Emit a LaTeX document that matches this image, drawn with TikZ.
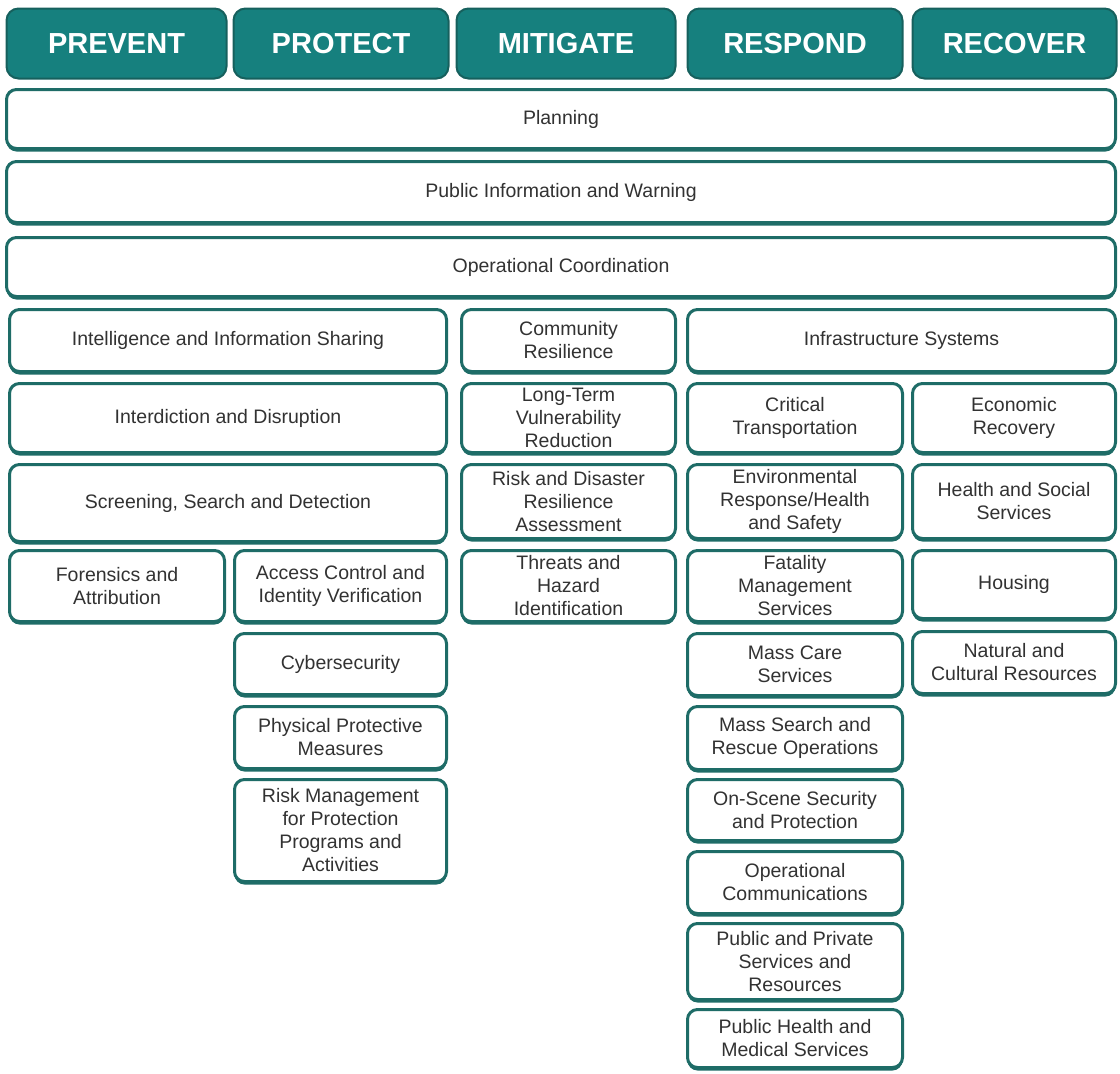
\documentclass[tikz,border=0pt]{standalone}
\usepackage{fontspec}
\setmainfont{Liberation Sans}
\usetikzlibrary{shadows}
\definecolor{hdrfill}{RGB}{22,128,126}
\definecolor{hdrline}{RGB}{22,96,93}
\definecolor{boxline}{RGB}{30,108,103}
\definecolor{txt}{RGB}{50,50,50}
\tikzset{
  cbox/.style={draw=boxline, line width=3pt, fill=white, rounded corners=10pt,
    align=center, text=txt, inner sep=2pt,
    font=\fontsize{19.5}{23}\selectfont,
    drop shadow={shadow xshift=0pt, shadow yshift=-3pt, fill=boxline, opacity=1}},
  hdr/.style={draw=hdrline, line width=2pt, fill=hdrfill, rounded corners=12pt,
    align=center, text=white, inner sep=2pt,
    font=\fontsize{29}{32}\selectfont\bfseries}
}
\newcommand\bx[7]{\node[#7, minimum width={#4-#2-3}, minimum height={#5-#3-3}] (#1) at ({(#2+#4)/2},{(#3+#5)/2}) {#6};}
\begin{document}
\begin{tikzpicture}[x=1pt,y=-1pt]
\useasboundingbox (0,0) rectangle (1120,1074);
% headers
\bx{hprev}{5}{7}{228}{80}{PREVENT}{hdr}
\bx{hprot}{232}{7}{450}{80}{PROTECT}{hdr}
\bx{hmit}{455}{7}{677}{80}{MITIGATE}{hdr}
\bx{hresp}{686}{7}{904}{80}{RESPOND}{hdr}
\bx{hrec}{911}{7}{1118}{80}{RECOVER}{hdr}
% full-width rows
\bx{plan}{5}{88}{1117}{150}{Planning}{cbox}
\bx{pubinfo}{5}{160}{1117}{224}{Public Information and Warning}{cbox}
\bx{opcoord}{5}{236}{1117}{298}{Operational Coordination}{cbox}
% row 1
\bx{intel}{8}{308}{448}{373}{Intelligence and Information Sharing}{cbox}
\bx{comm}{460}{308}{677}{373}{Community\\Resilience}{cbox}
\bx{infra}{686}{308}{1117}{373}{Infrastructure Systems}{cbox}
% row 2
\bx{interd}{8}{382}{448}{454}{Interdiction and Disruption}{cbox}
\bx{longterm}{460}{382}{677}{454}{Long-Term\\Vulnerability\\Reduction}{cbox}
\bx{crit}{686}{382}{904}{454}{Critical\\Transportation}{cbox}
\bx{econ}{911}{382}{1117}{454}{Economic\\Recovery}{cbox}
% row 3
\bx{screen}{8}{463}{448}{543}{Screening, Search and Detection}{cbox}
\bx{riskdis}{460}{463}{677}{540}{Risk and Disaster\\Resilience\\Assessment}{cbox}
\bx{env}{686}{463}{904}{540}{Environmental\\Response/Health\\and Safety}{cbox}
\bx{health}{911}{463}{1117}{540}{Health and Social\\Services}{cbox}
% row 4
\bx{foren}{8}{549}{226}{623}{Forensics and\\Attribution}{cbox}
\bx{access}{233}{549}{448}{623}{Access Control and\\Identity Verification}{cbox}
\bx{threats}{460}{549}{677}{623}{Threats and\\Hazard\\Identification}{cbox}
\bx{fatal}{686}{549}{904}{623}{Fatality\\Management\\Services}{cbox}
\bx{housing}{911}{549}{1117}{620}{Housing}{cbox}
% protect column
\bx{cyber}{233}{632}{448}{696}{Cybersecurity}{cbox}
\bx{phys}{233}{705}{448}{770}{Physical Protective\\Measures}{cbox}
\bx{riskmgmt}{233}{778}{448}{883}{Risk Management\\for Protection\\Programs and\\Activities}{cbox}
% respond column
\bx{masscare}{686}{632}{904}{697}{Mass Care\\Services}{cbox}
\bx{natural}{911}{630}{1117}{695}{Natural and\\Cultural Resources}{cbox}
\bx{masssearch}{686}{705}{904}{771}{Mass Search and\\Rescue Operations}{cbox}
\bx{onscene}{686}{778}{904}{842}{On-Scene Security\\and Protection}{cbox}
\bx{opcomms}{686}{850}{904}{915}{Operational\\Communications}{cbox}
\bx{pubpriv}{686}{922}{904}{1001}{Public and Private\\Services and\\Resources}{cbox}
\bx{pubhealth}{686}{1008}{904}{1069}{Public Health and\\Medical Services}{cbox}
\end{tikzpicture}
\end{document}
